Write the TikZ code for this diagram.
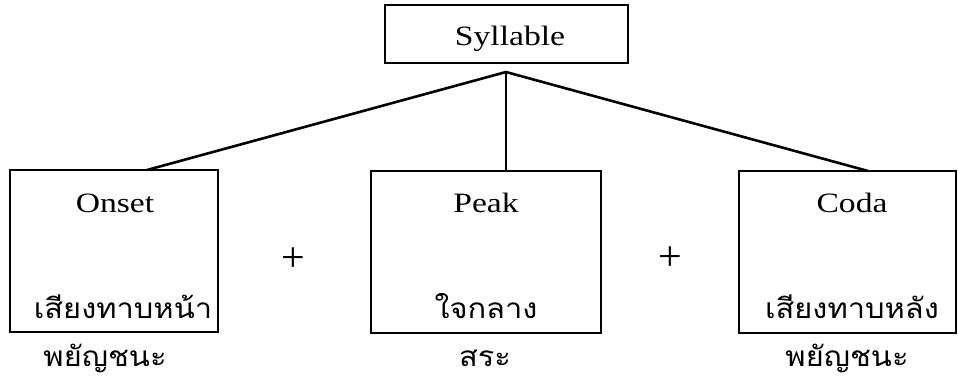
\documentclass[tikz,border=0pt]{standalone}
\usepackage{graphicx}
\usepackage{fontspec}
\setmainfont{Liberation Serif}
\newfontfamily\thaifont[Script=Thai]{Loma}
\newcommand{\wide}[1]{\scalebox{1.2}[1]{#1}}
\newcommand{\twide}[1]{\scalebox{1.1}[1]{#1}}
\begin{document}
\begin{tikzpicture}[x=1pt,y=-1pt,
  box/.style={draw,line width=1.5pt,inner sep=0pt},
  lat/.style={font=\fontsize{28}{30}\selectfont,inner sep=0pt,anchor=base},
  thai/.style={font=\thaifont\fontsize{28}{30}\selectfont,inner sep=0pt,anchor=base},
  plus/.style={font=\fontsize{42}{44}\selectfont,inner sep=0pt,anchor=center},
  conn/.style={line width=2.6pt}]
\useasboundingbox (0,0) rectangle (958,378);
% boxes
\node[box,minimum width=243pt,minimum height=58pt] (syl) at (506.5,34) {};
\node[box,minimum width=208pt,minimum height=162pt] (onset) at (114,251) {};
\node[box,minimum width=230pt,minimum height=162pt] (peak) at (486,252) {};
\node[box,minimum width=217pt,minimum height=162pt] (coda) at (847.5,252) {};
% texts
\node[lat] (tsyl) at (510,45) {\wide{Syllable}};
\node[lat] (ton) at (115,212) {\wide{Onset}};
\node[lat] (tpe) at (486,212) {\wide{Peak}};
\node[lat] (tco) at (852,212) {\wide{Coda}};
\node[thai] (ton2) at (123,318) {\twide{เสียงทาบหน้า}};
\node[thai] (tpe2) at (486,318) {\twide{ใจกลาง}};
\node[thai] (tco2) at (852,318) {\twide{เสียงทาบหลัง}};
\node[thai] (ton3) at (105,366) {\twide{พยัญชนะ}};
\node[thai] (tpe3) at (485,366) {\twide{สระ}};
\node[thai] (tco3) at (847,366) {\twide{พยัญชนะ}};
\node[plus] (p1) at (293,260) {+};
\node[plus] (p2) at (670,259) {+};
% connectors
\coordinate (apex) at (506,72);
\coordinate (oT) at (147,170);
\coordinate (pT) at (506,171);
\coordinate (cT) at (868,171);
\draw[conn] (oT) -- (apex) -- (cT);
\draw[conn] (apex) -- (pT);
\end{tikzpicture}
\end{document}
